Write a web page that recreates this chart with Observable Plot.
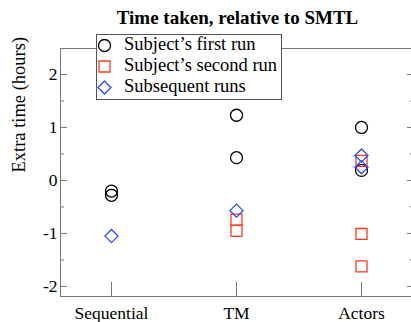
<!DOCTYPE html>
<html><head><meta charset="utf-8">
<script src="https://cdn.jsdelivr.net/npm/d3@7"></script>
<script src="https://cdn.jsdelivr.net/npm/@observablehq/plot@0.6"></script>
<style>
body{margin:0;background:#fff;}
#wrap{position:relative;width:411px;height:322px;overflow:hidden;font-family:"Liberation Serif","Times New Roman",serif;}
#legend{position:absolute;left:96px;top:34px;width:184px;height:64px;border:1px solid #555;background:#fff;}
.lrow{position:absolute;left:0;width:184px;height:21px;line-height:21px;font-size:18.5px;color:#000;white-space:nowrap;}
.lrow svg{position:absolute;left:0;top:0;}
.lrow span{position:absolute;left:27px;top:-1px;}
</style></head><body><div id="wrap"></div>
<script>
// ---- data ----
const categories = ["Sequential", "TM", "Actors"];
const seriesNames = ["Subject\u2019s first run", "Subject\u2019s second run", "Subsequent runs"];
const firstRun = [["Sequential", -0.2], ["Sequential", -0.28], ["TM", 1.23], ["TM", 0.43], ["Actors", 1.0], ["Actors", 0.19]];
const secondRun = [["TM", -0.74], ["TM", -0.95], ["Actors", 0.37], ["Actors", -1.01], ["Actors", -1.62]];
const subsequentRuns = [["Sequential", -1.05], ["TM", -0.57], ["Actors", 0.47], ["Actors", 0.25]];
const yMajorTicks = [-2, -1, 0, 1, 2];
const yMinorTicks = [-1.5, -0.5, 0.5, 1.5];
const titleText = "Time taken, relative to SMTL";
const yLabel = "Extra time (hours)";

// ---- layout ----
const W = 411, H = 322, mL = 60, mR = 0, mT = 48, mB = 26;
const fw = W - mL - mR, fh = H - mT - mB;
const axisColor = "#777";
const styles = [
  {symbol: "circle", r: 6, color: "#000000"},
  {symbol: "square", r: 6.2, color: "#ff3a1a"},
  {symbol: "diamond2", r: 5.9, color: "#2a4cff"}
];
const seriesData = [firstRun, secondRun, subsequentRuns];

const chart = Plot.plot({
  width: W, height: H,
  marginLeft: mL, marginRight: mR, marginTop: mT, marginBottom: mB,
  style: {fontFamily: "Liberation Serif, Times New Roman, serif", background: "#fff", color: "#000"},
  x: {type: "point", domain: categories, padding: 0.393},
  y: {domain: [-2.19, 2.49]},
  marks: [
    Plot.frame({stroke: axisColor}),
    Plot.tickY(yMajorTicks, {y: d => d, insetRight: fw - 7, stroke: axisColor}),
    Plot.tickY(yMinorTicks, {y: d => d, insetRight: fw - 4, stroke: axisColor}),
    Plot.tickY(yMajorTicks, {y: d => d, insetLeft: fw - 4, stroke: axisColor}),
    Plot.tickY(yMinorTicks, {y: d => d, insetLeft: fw - 1.5, stroke: axisColor}),
    Plot.tickX(categories, {x: d => d, insetTop: fh - 14, stroke: axisColor}),
    Plot.axisY(yMajorTicks, {tickSize: 0, tickPadding: 3, fontSize: 17.5, tickFormat: d => String(d), label: null}),
    Plot.axisX({tickSize: 0, tickPadding: 10, fontSize: 17.5, label: null}),
    ...seriesData.map((data, i) => Plot.dot(data, {
      x: d => d[0], y: d => d[1], symbol: styles[i].symbol, r: styles[i].r,
      stroke: styles[i].color, strokeWidth: 1.3, fill: "none"
    })),
    Plot.text([titleText], {text: d => d, frameAnchor: "top", dy: -31, dx: 1.5, lineAnchor: "middle", fontSize: 19, fontWeight: "bold"}),
    Plot.text([yLabel], {text: d => d, frameAnchor: "left", rotate: -90, dx: -41, lineAnchor: "middle", fontSize: 18.5})
  ]
});
const wrap = document.getElementById("wrap");
wrap.appendChild(chart);

// ---- legend ----
const legend = document.createElement("div");
legend.id = "legend";
seriesNames.forEach((name, i) => {
  const row = document.createElement("div");
  row.className = "lrow";
  row.style.top = (i * 21) + "px";
  const symMap = {circle: d3.symbolCircle, square: d3.symbolSquare, diamond2: d3.symbolDiamond2};
  const path = d3.symbol(symMap[styles[i].symbol], Math.PI * styles[i].r * styles[i].r)();
  row.innerHTML = `<svg width="16" height="21"><path transform="translate(7.5,10.5)" d="${path}" fill="none" stroke="${styles[i].color}" stroke-width="1.3"/></svg><span>${name}</span>`;
  legend.appendChild(row);
});
wrap.appendChild(legend);
</script>
</body></html>
